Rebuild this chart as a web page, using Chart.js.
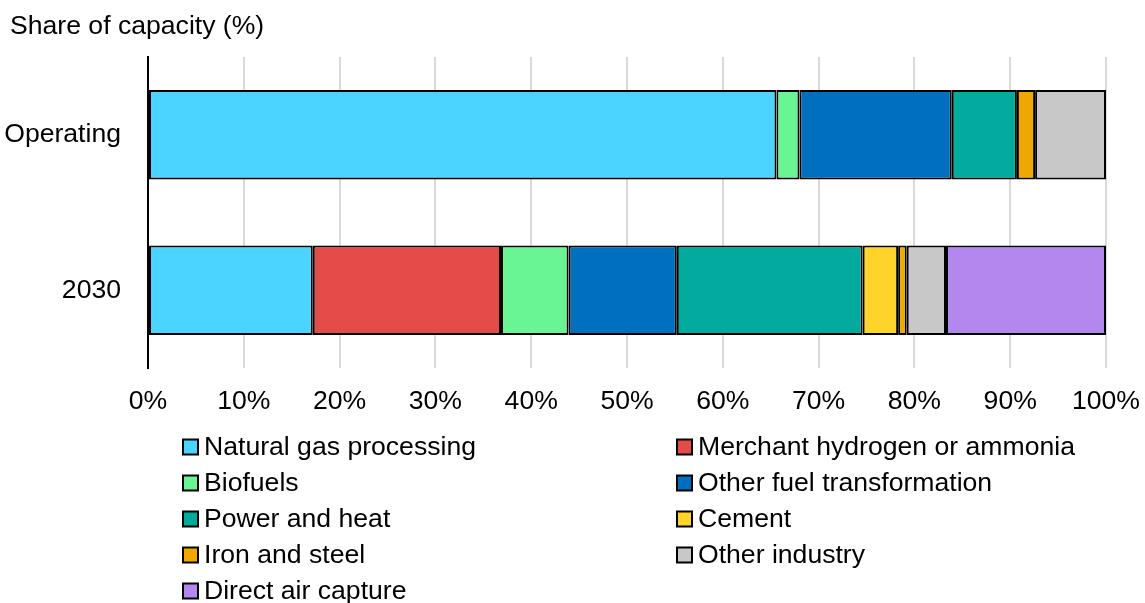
<!DOCTYPE html>
<html>
<head>
<meta charset="utf-8">
<script src="https://cdn.jsdelivr.net/npm/chart.js@4/dist/chart.umd.min.js"></script>
<style>
  html, body { margin: 0; padding: 0; background: #fff; }
  #wrap { width: 1145px; height: 603px; position: relative; }
</style>
</head>
<body>
<div id="wrap"><canvas id="c" width="1145" height="603"></canvas></div>
<script>
const categories = ["Operating", "2030"];
const seriesNames = [
  "Natural gas processing", "Merchant hydrogen or ammonia",
  "Biofuels", "Other fuel transformation",
  "Power and heat", "Cement",
  "Iron and steel", "Other industry",
  "Direct air capture"
];
const naturalGas   = [65.6, 17.2];
const merchantH2   = [null, 19.65];
const biofuels     = [2.4, 7.05];
const otherFuel    = [15.9, 11.3];
const powerHeat    = [6.8, 19.4];
const cement       = [null, 3.7];
const ironSteel    = [1.9, 0.9];
const otherIndustry= [7.4, 4.1];
const directAir    = [null, 16.7];
const xTicks = [0, 10, 20, 30, 40, 50, 60, 70, 80, 90, 100];
const colors = ["#4ad4ff", "#e34c48", "#6af594", "#006fbe", "#02ab9e", "#ffd42a", "#f0a800", "#c8c8c8", "#b287ee"];

const seriesData = [naturalGas, merchantH2, biofuels, otherFuel, powerHeat, cement, ironSteel, otherIndustry, directAir];
const FONT = "'Liberation Sans', Arial, sans-serif";
const FS = 26.6;

const datasets = seriesNames.map((name, i) => ({
  label: name,
  data: seriesData[i],
  backgroundColor: colors[i],
  borderColor: "#000",
  borderWidth: 2,
  borderSkipped: false,
  barPercentage: 0.575,
  categoryPercentage: 1.0
}));

const extras = {
  id: "extras",
  afterDraw(chart) {
    const ctx = chart.ctx;
    ctx.save();
    ctx.fillStyle = "#000";
    ctx.font = FS + "px " + FONT;
    ctx.textBaseline = "middle";
    ctx.textAlign = "left";
    ctx.fillText("Share of capacity (%)", 10, 27);
    const colX = [183, 677];
    const rowY0 = 447, rowH = 36, box = 15;
    chart.data.datasets.forEach((ds, i) => {
      const col = i % 2, row = Math.floor(i / 2);
      const x = colX[col], y = rowY0 + row * rowH;
      ctx.fillStyle = ds.backgroundColor;
      ctx.fillRect(x, y - box / 2, box, box);
      ctx.strokeStyle = "#000";
      ctx.lineWidth = 2;
      ctx.strokeRect(x, y - box / 2, box, box);
      ctx.fillStyle = "#000";
      ctx.fillText(ds.label, x + 21, y + 1);
    });
    ctx.restore();
  }
};

new Chart(document.getElementById("c"), {
  type: "bar",
  data: { labels: categories, datasets },
  options: {
    indexAxis: "y",
    responsive: false,
    animation: false,
    layout: { padding: { left: 0, right: 39, top: 57, bottom: 0 } },
    plugins: { legend: { display: false }, tooltip: { enabled: false }, title: { display: false } },
    scales: {
      x: {
        stacked: true,
        min: 0, max: 100,
        afterBuildTicks(scale) { scale.ticks = xTicks.map(v => ({ value: v })); },
        afterFit(scale) { scale.height = 235; scale.paddingLeft = 0; scale.paddingRight = 0; },
        ticks: {
          color: "#000",
          font: { family: FONT, size: FS },
          padding: 18,
          maxRotation: 0,
          callback: v => v + "%"
        },
        grid: { color: "#d9d9d9", lineWidth: 2, drawTicks: false },
        border: { display: false }
      },
      y: {
        stacked: true,
        afterFit(scale) { scale.width = 148; scale.paddingTop = 0; scale.paddingBottom = 0; },
        ticks: {
          color: "#000",
          font: { family: FONT, size: FS },
          padding: 27
        },
        grid: { display: false, drawTicks: false },
        border: { display: true, color: "#000", width: 2 }
      }
    }
  },
  plugins: [extras]
});
</script>
</body>
</html>
